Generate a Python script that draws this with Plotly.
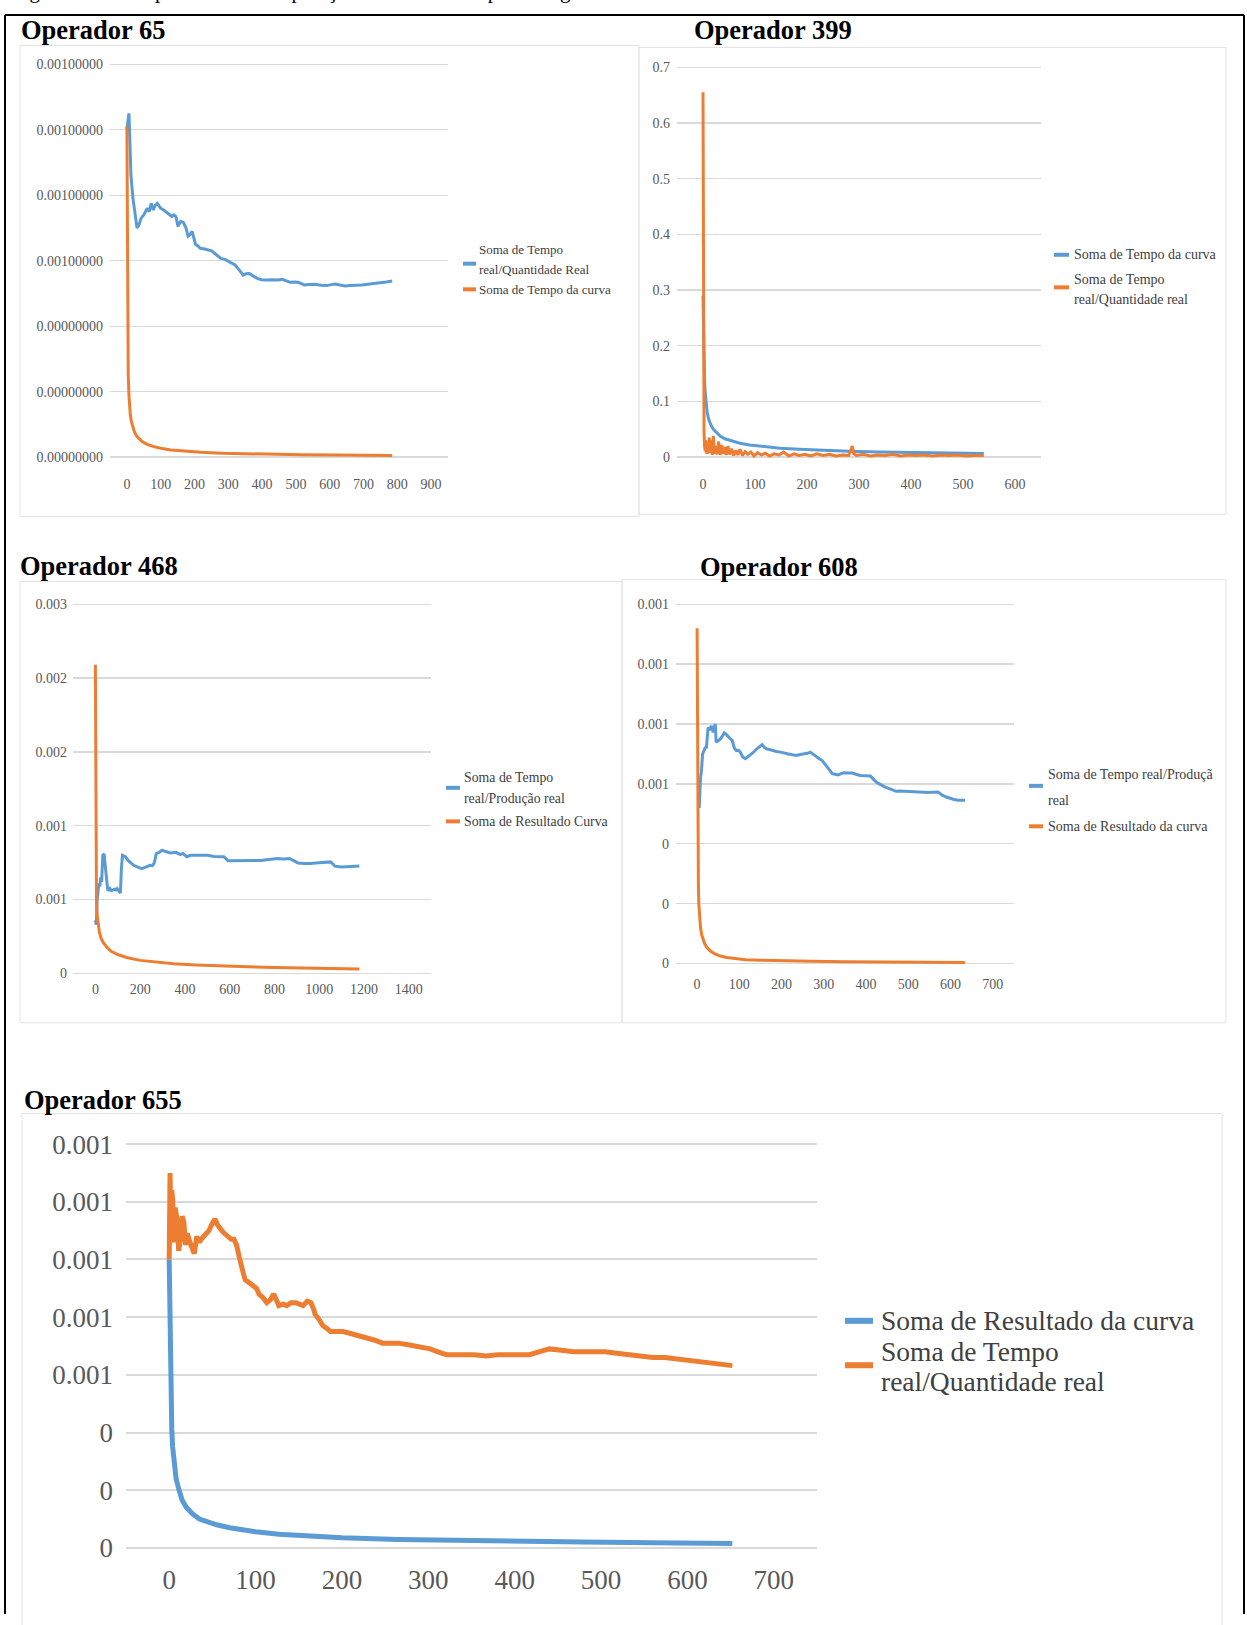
import plotly.graph_objects as go

W, H = 1247, 1625

# ---------------- data (x = observation index, y = value) ----------------
op65_real = [(0, 0.00100), (3, 0.00103), (6, 0.00105), (9, 0.00096), (12, 0.00086), (18, 0.00079),
             (24, 0.00074), (30, 0.00070), (36, 0.00071), (42, 0.00073), (50, 0.00074), (60, 0.00076),
             (66, 0.00075), (72, 0.000775), (78, 0.000755), (84, 0.00077), (90, 0.000775), (100, 0.00076),
             (109, 0.000755), (115, 0.00075), (121, 0.000745), (127, 0.00074), (133, 0.000735),
             (139, 0.00074), (145, 0.000735), (151, 0.000705), (159, 0.00072), (167, 0.000717),
             (171, 0.00071), (175, 0.0007), (181, 0.000675), (187, 0.00068), (193, 0.00069),
             (198, 0.00067), (203, 0.00065), (210, 0.000645), (217, 0.000638), (230, 0.000636),
             (242, 0.000632), (251, 0.00063), (260, 0.000622), (270, 0.000615), (278, 0.000607),
             (290, 0.000604), (302, 0.000598), (311, 0.000594), (320, 0.000587), (332, 0.000572),
             (344, 0.000556), (352, 0.00056), (362, 0.000561), (374, 0.000553), (386, 0.000546),
             (398, 0.000542), (411, 0.000541), (430, 0.000542), (447, 0.000541), (460, 0.000543),
             (471, 0.000539), (483, 0.000534), (495, 0.000535), (507, 0.000534), (516, 0.00053),
             (525, 0.000526), (540, 0.000527), (556, 0.000528), (575, 0.000525), (592, 0.000524),
             (605, 0.000527), (616, 0.000529), (630, 0.000526), (646, 0.000523), (660, 0.000524),
             (676, 0.000524), (695, 0.000526), (713, 0.000528), (730, 0.00053), (749, 0.000531),
             (767, 0.000535), (785, 0.000538)]
op65_curva = [(0, 0.00101), (1, 0.00062), (2, 0.00042), (3, 0.00031), (4, 0.00025), (6, 0.00019),
              (8, 0.000155), (10, 0.00013), (13, 0.00011), (17, 0.000092), (22, 0.000078), (28, 0.000066),
              (35, 0.000057), (45, 0.000048), (60, 0.000039), (80, 0.000032), (100, 0.000027),
              (130, 0.000022), (170, 0.000018), (220, 0.000015), (280, 0.000012), (350, 0.00001),
              (430, 0.0000085), (520, 0.0000072), (620, 0.0000062), (700, 0.0000056), (785, 0.000005)]

op399_curva = [(0, 0.29), (1, 0.22), (2, 0.17), (3, 0.14), (4, 0.12), (6, 0.095), (8, 0.08), (11, 0.068),
               (15, 0.058), (20, 0.05), (26, 0.044), (33, 0.038), (42, 0.033), (55, 0.029), (71, 0.025),
               (90, 0.022), (115, 0.019), (148, 0.016), (185, 0.014), (225, 0.012), (280, 0.0105),
               (340, 0.0093), (400, 0.0084), (470, 0.0074), (540, 0.0065)]
op399_real = [(0, 0.655), (1, 0.09), (2, 0.045), (3, 0.02), (4, 0.012), (5, 0.03), (6, 0.008), (7, 0.025),
              (8, 0.006), (9, 0.02), (10, 0.01), (12, 0.035), (14, 0.007), (16, 0.03), (18, 0.004),
              (20, 0.038), (22, 0.006), (24, 0.02), (27, 0.005), (30, 0.028), (33, 0.004), (36, 0.022),
              (39, 0.006), (42, 0.018), (45, 0.004), (48, 0.02), (51, 0.005), (55, 0.015), (59, 0.003),
              (63, 0.012), (67, 0.004), (71, 0.014), (76, 0.003), (81, 0.01), (86, 0.005), (92, 0.009),
              (98, 0.002), (105, 0.008), (112, 0.004), (120, 0.007), (128, 0.002), (137, 0.006),
              (146, 0.004), (155, 0.009), (165, 0.002), (175, 0.006), (185, 0.003), (196, 0.005),
              (207, 0.002), (219, 0.006), (231, 0.003), (243, 0.005), (256, 0.002), (269, 0.004),
              (280, 0.003), (284, 0.012), (287, 0.02), (290, 0.006), (295, 0.003), (308, 0.005),
              (322, 0.002), (336, 0.004), (350, 0.003), (365, 0.005), (380, 0.002), (395, 0.004),
              (410, 0.003), (426, 0.004), (442, 0.002), (458, 0.004), (474, 0.003), (490, 0.004),
              (506, 0.002), (522, 0.003), (540, 0.003)]

op468_real = [(0, 0.00036), (4, 0.00033), (8, 0.0005), (12, 0.00058), (16, 0.00061), (20, 0.00059),
              (24, 0.00065), (28, 0.00062), (33, 0.0008), (39, 0.00081), (43, 0.00074), (46, 0.0007),
              (50, 0.00066), (54, 0.00058), (57, 0.00056), (65, 0.000575), (72, 0.00056), (79, 0.000567),
              (86, 0.00057), (92, 0.000565), (97, 0.000574), (104, 0.00056), (112, 0.000544),
              (116, 0.0007), (121, 0.0008), (128, 0.000795), (134, 0.00079), (150, 0.00076),
              (171, 0.000732), (190, 0.00072), (207, 0.00071), (225, 0.00072), (244, 0.000732),
              (255, 0.00073), (262, 0.000744), (268, 0.00078), (272, 0.000812), (285, 0.00082),
              (299, 0.000834), (315, 0.000825), (336, 0.000816), (360, 0.00082), (380, 0.000805),
              (391, 0.000812), (409, 0.00079), (425, 0.0008), (446, 0.0008), (470, 0.000795),
              (501, 0.0008), (530, 0.000792), (574, 0.00079), (593, 0.000762), (630, 0.000762),
              (666, 0.000762), (700, 0.00076), (739, 0.000765), (775, 0.000772), (813, 0.000778),
              (840, 0.000775), (868, 0.000778), (890, 0.00076), (905, 0.000748), (935, 0.000745),
              (960, 0.000744), (1000, 0.00075), (1030, 0.000752), (1051, 0.000755), (1062, 0.00074),
              (1070, 0.000726), (1100, 0.00072), (1125, 0.000721), (1155, 0.000724), (1180, 0.000728)]
op468_curva = [(0, 0.00209), (1, 0.0013), (2, 0.00085), (3, 0.00062), (5, 0.00048), (8, 0.00039),
               (12, 0.00033), (18, 0.00028), (25, 0.00024), (35, 0.00021), (50, 0.00018), (70, 0.00015),
               (100, 0.000128), (140, 0.000108), (200, 0.000088), (270, 0.000075), (350, 0.000065),
               (450, 0.000057), (560, 0.00005), (680, 0.000045), (800, 0.00004), (930, 0.000036),
               (1060, 0.000033), (1180, 0.00003)]

op608_real = [(5, 0.00052), (6, 0.00058), (8, 0.00062), (10, 0.00064), (13, 0.0007), (16, 0.00071),
              (19, 0.00072), (22, 0.000722), (24, 0.00076), (26, 0.000789), (30, 0.00078), (34, 0.000794),
              (38, 0.000772), (41, 0.00079), (43, 0.0008), (45, 0.000739), (50, 0.000745), (55, 0.00075),
              (60, 0.00076), (64, 0.00077), (69, 0.000765), (74, 0.000756), (79, 0.00075), (83, 0.000745),
              (88, 0.00072), (93, 0.000711), (98, 0.000712), (102, 0.000706), (108, 0.00069),
              (114, 0.000684), (120, 0.00069), (126, 0.000695), (133, 0.000705), (140, 0.000715),
              (147, 0.000722), (154, 0.000731), (159, 0.000722), (164, 0.000717), (171, 0.000715),
              (178, 0.000711), (188, 0.000708), (197, 0.000706), (206, 0.000702), (216, 0.0007),
              (226, 0.000697), (235, 0.000695), (244, 0.000698), (254, 0.0007), (261, 0.000702),
              (268, 0.000706), (275, 0.000698), (282, 0.000689), (289, 0.000684), (296, 0.000678),
              (303, 0.000665), (310, 0.00065), (315, 0.00064), (320, 0.000634), (327, 0.000632),
              (334, 0.00063), (341, 0.000634), (348, 0.000637), (357, 0.000636), (367, 0.000636),
              (376, 0.000632), (386, 0.000628), (398, 0.000627), (410, 0.000626), (417, 0.000616),
              (424, 0.000606), (431, 0.0006), (438, 0.000593), (445, 0.000589), (452, 0.000586),
              (461, 0.00058), (471, 0.000575), (480, 0.000576), (490, 0.000575), (504, 0.000574),
              (518, 0.000573), (532, 0.000572), (547, 0.000571), (558, 0.000572), (570, 0.000573),
              (575, 0.000568), (580, 0.000562), (590, 0.000556), (599, 0.000551), (608, 0.000548),
              (618, 0.000545), (626, 0.000546), (634, 0.000545)]
op608_curva = [(0, 0.00112), (1, 0.00065), (2, 0.00038), (3, 0.00026), (4, 0.0002), (6, 0.00015),
               (8, 0.00012), (11, 0.000095), (14, 0.000079), (18, 0.000066), (24, 0.000052),
               (32, 0.000041), (42, 0.000032), (55, 0.000025), (70, 0.00002), (90, 0.000016),
               (115, 0.000013), (150, 0.000011), (200, 0.0000088), (270, 0.0000072), (350, 0.000006),
               (440, 0.0000048), (540, 0.000004), (634, 0.0000035)]

op655_curva = [(0, 0.001), (1, 0.00072), (2, 0.00052), (3, 0.00041), (4, 0.00035), (6, 0.00028),
               (8, 0.00024), (11, 0.000205), (15, 0.000165), (20, 0.00014), (27, 0.000118), (35, 0.0001),
               (45, 0.000088), (55, 0.00008), (70, 0.00007), (85, 0.000062), (100, 0.000056),
               (127, 0.000047), (160, 0.00004), (200, 0.000035), (265, 0.000029), (330, 0.000025),
               (400, 0.000022), (480, 0.00002), (560, 0.000018), (652, 0.000015)]
op655_real = [(0, 0.001), (1, 0.0013), (2, 0.00112), (3, 0.00124), (4, 0.00121), (5, 0.00108),
              (6, 0.00106), (7, 0.00118), (9, 0.00114), (11, 0.00103), (13, 0.00107), (15, 0.00115),
              (17, 0.00113), (19, 0.00105), (21, 0.00109), (24, 0.00106), (26, 0.00104), (29, 0.00102),
              (32, 0.00108), (35, 0.00106), (37, 0.00107), (40, 0.00108), (42, 0.00109), (46, 0.0011),
              (49, 0.00112), (53, 0.00114), (56, 0.00112), (58, 0.00111), (61, 0.0011), (64, 0.00109),
              (68, 0.00108), (72, 0.00107), (75, 0.00107), (78, 0.00105), (81, 0.00101), (83, 0.00098),
              (86, 0.00095), (88, 0.00093), (93, 0.00092), (98, 0.00091), (101, 0.0009), (104, 0.00088),
              (108, 0.00087), (113, 0.00085), (117, 0.00086), (121, 0.00088), (124, 0.00086),
              (127, 0.00084), (132, 0.000845), (136, 0.00084), (141, 0.00085), (147, 0.00085),
              (151, 0.000845), (155, 0.00084), (160, 0.000855), (164, 0.00085), (167, 0.00083),
              (169, 0.00081), (174, 0.00079), (178, 0.00077), (183, 0.00076), (187, 0.00075),
              (194, 0.00075), (201, 0.00075), (208, 0.000745), (215, 0.00074), (222, 0.000735),
              (228, 0.00073), (238, 0.00072), (247, 0.00071), (256, 0.00071), (265, 0.00071),
              (275, 0.000705), (284, 0.0007), (293, 0.000695), (302, 0.00069), (311, 0.00068),
              (321, 0.00067), (330, 0.00067), (339, 0.00067), (353, 0.00067), (367, 0.000665),
              (380, 0.00067), (394, 0.00067), (405, 0.000672), (417, 0.00067), (428, 0.00068),
              (440, 0.00069), (454, 0.000685), (468, 0.00068), (486, 0.00068), (505, 0.00068),
              (518, 0.000675), (532, 0.00067), (546, 0.000665), (560, 0.00066), (574, 0.00066),
              (588, 0.000655), (597, 0.00065), (606, 0.000648), (618, 0.000642), (629, 0.00064),
              (640, 0.000635), (652, 0.000632)]

# ---------------- tick labels ----------------
op65_yticks = [0, 0.0002, 0.0004, 0.0006, 0.0008, 0.0010, 0.0012]
op65_ytext = ["0.00000000", "0.00000000", "0.00000000", "0.00100000", "0.00100000", "0.00100000", "0.00100000"]
op65_xticks = [0, 100, 200, 300, 400, 500, 600, 700, 800, 900]

op399_yticks = [0, 0.1, 0.2, 0.3, 0.4, 0.5, 0.6, 0.7]
op399_ytext = ["0", "0.1", "0.2", "0.3", "0.4", "0.5", "0.6", "0.7"]
op399_xticks = [0, 100, 200, 300, 400, 500, 600]

op468_yticks = [0, 0.0005, 0.001, 0.0015, 0.002, 0.0025]
op468_ytext = ["0", "0.001", "0.001", "0.002", "0.002", "0.003"]
op468_xticks = [0, 200, 400, 600, 800, 1000, 1200, 1400]

op608_yticks = [0, 0.0002, 0.0004, 0.0006, 0.0008, 0.0010, 0.0012]
op608_ytext = ["0", "0", "0", "0.001", "0.001", "0.001", "0.001"]
op608_xticks = [0, 100, 200, 300, 400, 500, 600, 700]

op655_yticks = [0, 0.0002, 0.0004, 0.0006, 0.0008, 0.0010, 0.0012, 0.0014]
op655_ytext = ["0", "0", "0", "0.001", "0.001", "0.001", "0.001", "0.001"]
op655_xticks = [0, 100, 200, 300, 400, 500, 600, 700]

# ---------------- titles / legend text ----------------
caption = "Figura 12 – Comportamento da operação e da curva de aprendizagem"
titles = ["Operador 65", "Operador 399", "Operador 468", "Operador 608", "Operador 655"]
leg65 = ["Soma de Tempo", "real/Quantidade Real", "Soma de Tempo da curva"]
leg399 = ["Soma de Tempo da curva", "Soma de Tempo", "real/Quantidade real"]
leg468 = ["Soma de Tempo", "real/Produção real", "Soma de Resultado Curva"]
leg608 = ["Soma de Tempo real/Produçã", "real", "Soma de Resultado da curva"]
leg655 = ["Soma de Resultado da curva", "Soma de Tempo", "real/Quantidade real"]

BLUE = "#5B9BD5"
ORANGE = "#ED7D31"
GRID = "#D9D9D9"
TXT = "#595959"
SERIF = "Liberation Serif, Times New Roman, serif"


def fx(p):
    return p / W


def fy(p):
    return 1 - p / H


def ydomain(zero_px, top_px, top_val, pad=0.012):
    span = zero_px - top_px
    dom = [fy(zero_px + pad * span), fy(top_px - pad * span)]
    rng = [-pad * top_val, top_val * (1 + pad)]
    return dom, rng


# panel geometry: plot x extent (px), x range, y zero/top px, top tick, font size, standoffs
panels = [
    dict(x0=110, x1=448, xr=[-50, 950], y0=453, y1=55, top=0.0012,
         yt=op65_yticks, ytt=op65_ytext, xt=op65_xticks, fs=14, xs=12, ys=6),
    dict(x0=677, x1=1041, xr=[-50, 650], y0=453, y1=58, top=0.7,
         yt=op399_yticks, ytt=op399_ytext, xt=op399_xticks, fs=14, xs=12, ys=6),
    dict(x0=73, x1=431, xr=[-100, 1500], y0=976, y1=602, top=0.0025,
         yt=op468_yticks, ytt=op468_ytext, xt=op468_xticks, fs=14, xs=1, ys=5),
    dict(x0=676, x1=1014, xr=[-50, 750], y0=966, y1=602, top=0.0012,
         yt=op608_yticks, ytt=op608_ytext, xt=op608_xticks, fs=14, xs=6, ys=6),
    dict(x0=126, x1=817, xr=[-50, 750], y0=1558, y1=1149, top=0.0014,
         yt=op655_yticks, ytt=op655_ytext, xt=op655_xticks, fs=27, xs=8, ys=12),
]

series = [
    [(op65_real, BLUE), (op65_curva, ORANGE)],
    [(op399_curva, BLUE), (op399_real, ORANGE)],
    [(op468_real, BLUE), (op468_curva, ORANGE)],
    [(op608_real, BLUE), (op608_curva, ORANGE)],
    [(op655_curva, BLUE), (op655_real, ORANGE)],
]

fig = go.Figure()
layout = dict(
    width=W, height=H, margin=dict(l=0, r=0, t=0, b=0),
    paper_bgcolor="white", plot_bgcolor="rgba(0,0,0,0)",
    showlegend=False, font=dict(family=SERIF, color=TXT),
)

for i, (p, ser) in enumerate(zip(panels, series), start=1):
    sfx = "" if i == 1 else str(i)
    lw = 5 if i == 5 else 3
    for pts, col in ser:
        fig.add_trace(go.Scatter(
            x=[a for a, _ in pts], y=[b for _, b in pts], mode="lines",
            line=dict(color=col, width=lw), xaxis="x" + sfx, yaxis="y" + sfx,
            hoverinfo="skip"))
    ydom, yrng = ydomain(p["y0"], p["y1"], p["top"])
    layout["xaxis" + sfx] = dict(
        domain=[fx(p["x0"]), fx(p["x1"])], range=p["xr"], anchor="y" + sfx,
        showgrid=False, zeroline=False, showline=False, ticks="",
        tickvals=p["xt"], ticktext=[str(v) for v in p["xt"]],
        tickfont=dict(family=SERIF, size=p["fs"], color=TXT),
        ticklabelstandoff=p["xs"], fixedrange=True)
    layout["yaxis" + sfx] = dict(
        domain=ydom, range=yrng, anchor="x" + sfx,
        showgrid=True, gridcolor=GRID, gridwidth=2 if i == 5 else 1.3,
        zeroline=False, showline=False, ticks="",
        tickvals=p["yt"], ticktext=p["ytt"],
        tickfont=dict(family=SERIF, size=p["fs"], color=TXT),
        ticklabelstandoff=p["ys"], fixedrange=True)

shapes = []
# outer table frame
for x0, y0, x1, y1 in [(5, 5, 1244, 5), (5, 5, 5, 1625), (1244, 5, 1244, 1625)]:
    shapes.append(dict(type="line", xref="paper", yref="paper",
                       x0=fx(x0), y0=fy(y0), x1=fx(x1), y1=fy(y1),
                       line=dict(color="black", width=2)))
# chart frames
for x0, y0, x1, y1 in [(20, 36, 639, 513), (639, 38, 1226, 511), (20, 579, 622, 1026),
                       (622, 577, 1226, 1026), (22, 1118, 1222, 1640)]:
    shapes.append(dict(type="rect", xref="paper", yref="paper",
                       x0=fx(x0), y0=fy(y1), x1=fx(x1), y1=fy(y0),
                       line=dict(color="#E3E3E3", width=1), fillcolor="rgba(0,0,0,0)", layer="below"))

# caption line sits above the page top; only its lowest strokes remain visible
annotations = [dict(text=caption, xref="paper", yref="paper", x=fx(10), y=fy(-5),
                    xanchor="left", yanchor="bottom", showarrow=False,
                    font=dict(family=SERIF, size=21, color="black"))]

title_pos = [(19, 20), (692, 20), (18, 563), (698, 564), (22, 1104)]
for t, (tx, ty) in zip(titles, title_pos):
    annotations.append(dict(text="<b>" + t + "</b>", xref="paper", yref="paper",
                            x=fx(tx), y=fy(ty), xanchor="left", yanchor="middle",
                            showarrow=False, font=dict(family=SERIF, size=26.5, color="black")))

# legends: (texts, text x, line ys, sample x0, x1, blue y, orange y, font size, sample width)
legends = [
    (leg65, 477, [243, 263, 283], 463, 476, 257, 283, 13, 4),
    (leg399, 1072, [248, 273, 293], 1054, 1069, 248, 281, 14, 4),
    (leg468, 462, [778, 799, 822], 446, 460, 788, 822, 13.8, 4),
    (leg608, 1046, [775, 801, 827], 1029, 1043, 786, 827, 14, 4),
    (leg655, 879, [1328, 1359, 1389], 845, 873, 1328, 1373, 27.5, 6),
]
for texts, tx, tys, sx0, sx1, by, oy, fs, sw in legends:
    for t, ty in zip(texts, tys):
        annotations.append(dict(text=t, xref="paper", yref="paper", x=fx(tx), y=fy(ty),
                                xanchor="left", yanchor="middle", showarrow=False,
                                font=dict(family=SERIF, size=fs, color="#404040")))
    for yy, col in [(by, BLUE), (oy, ORANGE)]:
        shapes.append(dict(type="line", xref="paper", yref="paper",
                           x0=fx(sx0), x1=fx(sx1), y0=fy(yy), y1=fy(yy),
                           line=dict(color=col, width=sw)))

layout["shapes"] = shapes
layout["annotations"] = annotations
fig.update_layout(**layout)

fig.write_html("out.html", config={"displayModeBar": False, "staticPlot": True},
               post_script="document.body.style.margin='0';")
